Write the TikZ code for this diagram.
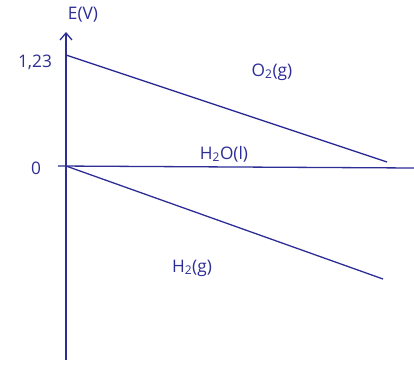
\documentclass[tikz,border=0pt]{standalone}
\usepackage{fontspec}
\setmainfont{Open Sans}
\usetikzlibrary{arrows.meta}
\definecolor{ink}{RGB}{45,45,150}
\begin{document}
\begin{tikzpicture}[x=1pt,y=-1pt,
  ink line/.style={draw=ink, line width=1.3pt},
  lbl/.style={text=ink, font=\LARGE, inner sep=1pt}]
\useasboundingbox (0,0) rectangle (414,364);
\coordinate (ybot) at (66,360);
\coordinate (ytop) at (66,32);
\draw[ink line, -{Straight Barb[length=7pt,width=12pt]}] (ybot) -- (ytop);
\coordinate (a) at (66,55);
\coordinate (a2) at (387,162);
\coordinate (o0) at (58,166);
\coordinate (o) at (66,166);
\coordinate (b2) at (414,168);
\coordinate (c2) at (383,279);
\draw[ink line] (a) -- (a2);
\draw[ink line] (o0) -- (b2);
\draw[ink line] (o) -- (c2);
\node[lbl] (ev) at (83,15) {E(V)};
\node[lbl] (v123) at (35,62) {1,23};
\node[lbl] (zero) at (36,168) {0};
\node[lbl] (o2) at (272,72) {O\textsubscript{2}(g)};
\node[lbl] (h2o) at (224,154) {H\textsubscript{2}O(l)};
\node[lbl] (h2) at (192,268) {H\textsubscript{2}(g)};
\end{tikzpicture}
\end{document}
